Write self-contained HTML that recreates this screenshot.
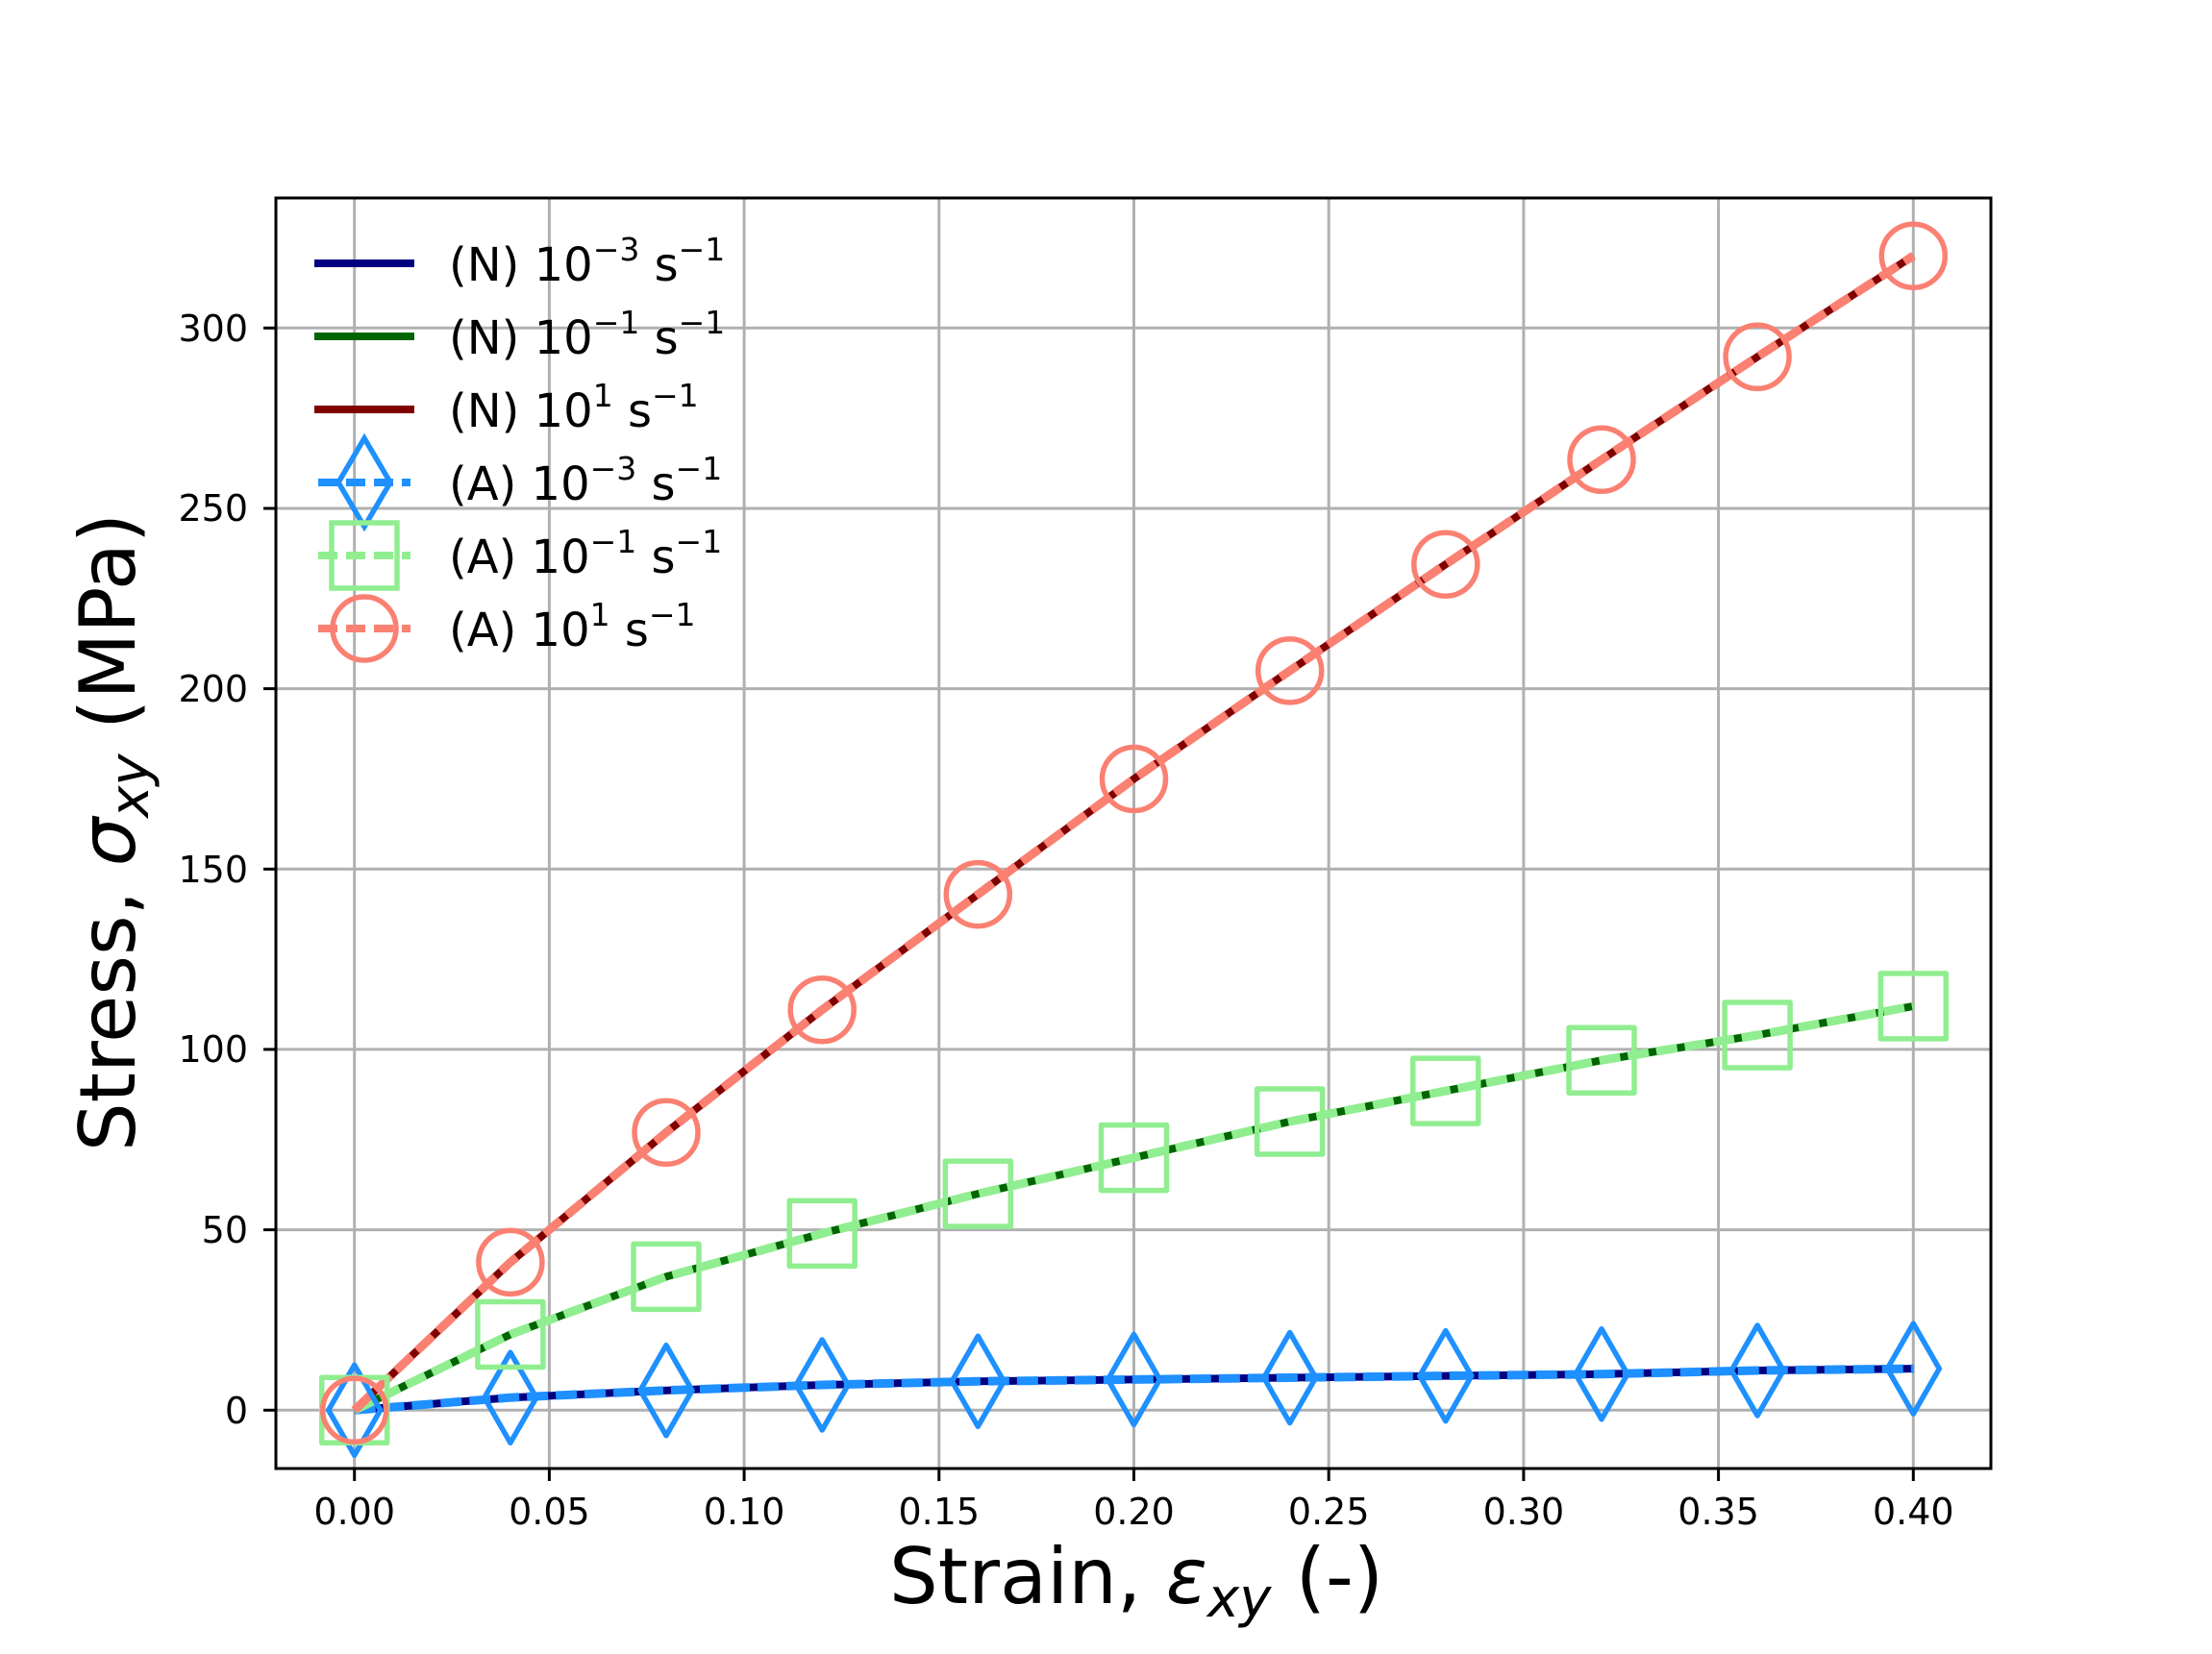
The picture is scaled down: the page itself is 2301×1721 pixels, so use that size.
<!DOCTYPE html>
<html><head><meta charset="utf-8"><style>html,body{margin:0;padding:0;background:#fff}</style></head>
<body>
<svg xmlns="http://www.w3.org/2000/svg" width="2301" height="1716" viewBox="0 0 2301 1716" font-family="'DejaVu Sans','Liberation Sans',sans-serif">
<defs>
<clipPath id="c"><rect x="287" y="206" width="1784" height="1322"/></clipPath>
</defs>
<rect width="2301" height="1716" fill="#fff"/>
<g stroke="#b0b0b0" stroke-width="3">
<line x1="368.7" y1="206" x2="368.7" y2="1528"/><line x1="571.4" y1="206" x2="571.4" y2="1528"/><line x1="774.1" y1="206" x2="774.1" y2="1528"/><line x1="976.8" y1="206" x2="976.8" y2="1528"/><line x1="1179.5" y1="206" x2="1179.5" y2="1528"/><line x1="1382.2" y1="206" x2="1382.2" y2="1528"/><line x1="1584.9" y1="206" x2="1584.9" y2="1528"/><line x1="1787.6" y1="206" x2="1787.6" y2="1528"/><line x1="1990.3" y1="206" x2="1990.3" y2="1528"/>
<line x1="287" y1="1467.3" x2="2071" y2="1467.3"/><line x1="287" y1="1279.6" x2="2071" y2="1279.6"/><line x1="287" y1="1091.9" x2="2071" y2="1091.9"/><line x1="287" y1="904.3" x2="2071" y2="904.3"/><line x1="287" y1="716.6" x2="2071" y2="716.6"/><line x1="287" y1="529" x2="2071" y2="529"/><line x1="287" y1="341.3" x2="2071" y2="341.3"/>
</g>
<g clip-path="url(#c)" fill="none" stroke-linejoin="round">
<polyline stroke="#000080" stroke-width="8" points="368.7,1467.3 530.9,1454.2 693,1446.7 855.2,1441 1017.3,1437.3 1179.5,1435.4 1341.7,1433.5 1503.8,1431.6 1666,1429.8 1828.1,1426 1990.3,1424.1"/>
<polyline stroke="#006400" stroke-width="8" points="368.7,1467.3 530.9,1388.5 693,1328.4 855.2,1283.4 1017.3,1242.1 1179.5,1204.6 1341.7,1167 1503.8,1135.1 1666,1103.2 1828.1,1077 1990.3,1046.9"/>
<polyline stroke="#800000" stroke-width="8" points="368.7,1467.3 530.9,1313.4 693,1178.3 855.2,1050.7 1017.3,930.6 1179.5,810.5 1341.7,697.9 1503.8,587.2 1666,478.3 1828.1,371.3 1990.3,266.2"/>
<polyline stroke="#1e90ff" stroke-width="9" stroke-dasharray="22 8" points="368.7,1467.3 530.9,1454.2 693,1446.7 855.2,1441 1017.3,1437.3 1179.5,1435.4 1341.7,1433.5 1503.8,1431.6 1666,1429.8 1828.1,1426 1990.3,1424.1"/>
<polyline stroke="#90ee90" stroke-width="9" stroke-dasharray="22 8" points="368.7,1467.3 530.9,1388.5 693,1328.4 855.2,1283.4 1017.3,1242.1 1179.5,1204.6 1341.7,1167 1503.8,1135.1 1666,1103.2 1828.1,1077 1990.3,1046.9"/>
<polyline stroke="#fa8072" stroke-width="9" stroke-dasharray="22 8" points="368.7,1467.3 530.9,1313.4 693,1178.3 855.2,1050.7 1017.3,930.6 1179.5,810.5 1341.7,697.9 1503.8,587.2 1666,478.3 1828.1,371.3 1990.3,266.2"/>
<g stroke="#1e90ff" stroke-width="5.5">
<path d="M368.7,1420.3 l27,47 l-27,47 l-27,-47z"/><path d="M530.9,1407.2 l27,47 l-27,47 l-27,-47z"/><path d="M693,1399.7 l27,47 l-27,47 l-27,-47z"/><path d="M855.2,1394 l27,47 l-27,47 l-27,-47z"/><path d="M1017.3,1390.3 l27,47 l-27,47 l-27,-47z"/><path d="M1179.5,1388.4 l27,47 l-27,47 l-27,-47z"/><path d="M1341.7,1386.5 l27,47 l-27,47 l-27,-47z"/><path d="M1503.8,1384.6 l27,47 l-27,47 l-27,-47z"/><path d="M1666,1382.8 l27,47 l-27,47 l-27,-47z"/><path d="M1828.1,1379 l27,47 l-27,47 l-27,-47z"/><path d="M1990.3,1377.1 l27,47 l-27,47 l-27,-47z"/>
</g>
<g stroke="#90ee90" stroke-width="5.5">
<rect x="334.7" y="1433.3" width="68" height="68"/><rect x="496.9" y="1354.5" width="68" height="68"/><rect x="659" y="1294.4" width="68" height="68"/><rect x="821.2" y="1249.4" width="68" height="68"/><rect x="983.3" y="1208.1" width="68" height="68"/><rect x="1145.5" y="1170.6" width="68" height="68"/><rect x="1307.7" y="1133" width="68" height="68"/><rect x="1469.8" y="1101.1" width="68" height="68"/><rect x="1632" y="1069.2" width="68" height="68"/><rect x="1794.1" y="1043" width="68" height="68"/><rect x="1956.3" y="1012.9" width="68" height="68"/>
</g>
<g stroke="#fa8072" stroke-width="5.5">
<circle cx="368.7" cy="1467.3" r="33"/><circle cx="530.9" cy="1313.4" r="33"/><circle cx="693" cy="1178.3" r="33"/><circle cx="855.2" cy="1050.7" r="33"/><circle cx="1017.3" cy="930.6" r="33"/><circle cx="1179.5" cy="810.5" r="33"/><circle cx="1341.7" cy="697.9" r="33"/><circle cx="1503.8" cy="587.2" r="33"/><circle cx="1666" cy="478.3" r="33"/><circle cx="1828.1" cy="371.3" r="33"/><circle cx="1990.3" cy="266.2" r="33"/>
</g>
</g>
<rect x="287" y="206" width="1784" height="1322" fill="none" stroke="#000" stroke-width="3"/>
<g stroke="#000" stroke-width="3">
<line x1="368.7" y1="1528" x2="368.7" y2="1541"/><line x1="571.4" y1="1528" x2="571.4" y2="1541"/><line x1="774.1" y1="1528" x2="774.1" y2="1541"/><line x1="976.8" y1="1528" x2="976.8" y2="1541"/><line x1="1179.5" y1="1528" x2="1179.5" y2="1541"/><line x1="1382.2" y1="1528" x2="1382.2" y2="1541"/><line x1="1584.9" y1="1528" x2="1584.9" y2="1541"/><line x1="1787.6" y1="1528" x2="1787.6" y2="1541"/><line x1="1990.3" y1="1528" x2="1990.3" y2="1541"/>
<line x1="274" y1="1467.3" x2="287" y2="1467.3"/><line x1="274" y1="1279.6" x2="287" y2="1279.6"/><line x1="274" y1="1091.9" x2="287" y2="1091.9"/><line x1="274" y1="904.3" x2="287" y2="904.3"/><line x1="274" y1="716.6" x2="287" y2="716.6"/><line x1="274" y1="529" x2="287" y2="529"/><line x1="274" y1="341.3" x2="287" y2="341.3"/>
</g>
<g font-size="38" fill="#000" text-anchor="middle">
<text x="368.7" y="1586">0.00</text><text x="571.4" y="1586">0.05</text><text x="774.1" y="1586">0.10</text><text x="976.8" y="1586">0.15</text><text x="1179.5" y="1586">0.20</text><text x="1382.2" y="1586">0.25</text><text x="1584.9" y="1586">0.30</text><text x="1787.6" y="1586">0.35</text><text x="1990.3" y="1586">0.40</text>
</g>
<g font-size="38" fill="#000" text-anchor="end">
<text x="258" y="1481">0</text><text x="258" y="1293">50</text><text x="258" y="1105">100</text><text x="258" y="918">150</text><text x="258" y="730">200</text><text x="258" y="542">250</text><text x="258" y="355">300</text>
</g>
<text x="1182" y="1668" font-size="80" text-anchor="middle">Strain, <tspan font-style="italic">ε</tspan><tspan font-style="italic" font-size="56" dy="14">xy</tspan><tspan dy="-14"> (-)</tspan></text>
<text transform="translate(140,866) rotate(-90)" font-size="80" text-anchor="middle">Stress, <tspan font-style="italic">σ</tspan><tspan font-style="italic" font-size="56" dy="14">xy</tspan><tspan dy="-14"> (MPa)</tspan></text>
<g fill="none">
<line x1="327" y1="274" x2="431" y2="274" stroke="#000080" stroke-width="8"/>
<line x1="327" y1="350" x2="431" y2="350" stroke="#006400" stroke-width="8"/>
<line x1="327" y1="426" x2="431" y2="426" stroke="#800000" stroke-width="8"/>
<line x1="331" y1="502" x2="427" y2="502" stroke="#1e90ff" stroke-width="8" stroke-dasharray="20 9"/>
<path d="M379,456 l27,46 l-27,46 l-27,-46z" stroke="#1e90ff" stroke-width="5.5"/>
<line x1="331" y1="578" x2="427" y2="578" stroke="#90ee90" stroke-width="8" stroke-dasharray="20 9"/>
<rect x="345" y="544" width="68" height="68" stroke="#90ee90" stroke-width="5.5"/>
<line x1="331" y1="654" x2="427" y2="654" stroke="#fa8072" stroke-width="8" stroke-dasharray="20 9"/>
<circle cx="379" cy="654" r="33" stroke="#fa8072" stroke-width="5.5"/>
</g>
<g font-size="48" fill="#000">
<text x="467" y="292">(N) 10<tspan font-size="33" dy="-21">−3</tspan><tspan dy="21"> s</tspan><tspan font-size="33" dy="-21">−1</tspan></text>
<text x="467" y="368">(N) 10<tspan font-size="33" dy="-21">−1</tspan><tspan dy="21"> s</tspan><tspan font-size="33" dy="-21">−1</tspan></text>
<text x="467" y="444">(N) 10<tspan font-size="33" dy="-21">1</tspan><tspan dy="21"> s</tspan><tspan font-size="33" dy="-21">−1</tspan></text>
<text x="467" y="520">(A) 10<tspan font-size="33" dy="-21">−3</tspan><tspan dy="21"> s</tspan><tspan font-size="33" dy="-21">−1</tspan></text>
<text x="467" y="596">(A) 10<tspan font-size="33" dy="-21">−1</tspan><tspan dy="21"> s</tspan><tspan font-size="33" dy="-21">−1</tspan></text>
<text x="467" y="672">(A) 10<tspan font-size="33" dy="-21">1</tspan><tspan dy="21"> s</tspan><tspan font-size="33" dy="-21">−1</tspan></text>
</g>
</svg>
</body></html>
